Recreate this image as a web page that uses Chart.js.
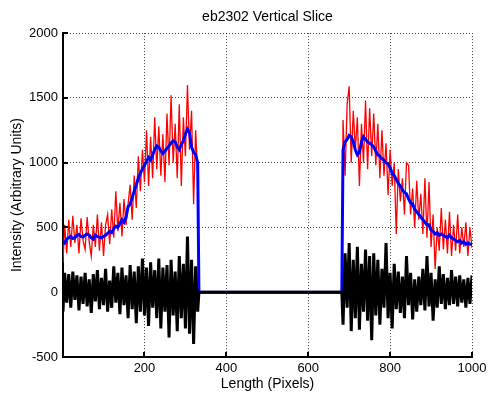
<!DOCTYPE html>
<html>
<head>
<meta charset="utf-8">
<title>eb2302 Vertical Slice</title>
<script src="https://cdn.jsdelivr.net/npm/chart.js@4.4.1/dist/chart.umd.min.js"></script>
<style>
	html, body { margin: 0; padding: 0; background: #fff; }
	#wrap { width: 488px; height: 395px; }
</style>
</head>
<body>
<div id="wrap"><canvas id="chart-slice" width="488" height="395"></canvas></div>
<script>
// pixel positions along the slice (left block, flat gap, right block)
var xPos = [
	1,5,10,15,20,25,30,35,40,45,50,55,60,65,70,75,80,85,90,95,
	100,105,110,115,120,125,130,135,140,145,150,155,160,165,170,175,180,185,190,195,
	200,205,210,215,220,225,230,235,240,245,250,255,260,265,270,275,280,285,290,295,
	300,305,310,315,320,325,330,
	333,682,
	685,690,695,700,705,710,715,720,725,730,735,740,745,750,755,760,765,770,775,780,
	785,790,795,800,805,810,815,820,825,830,835,840,845,850,855,860,865,870,875,880,
	885,890,895,900,905,910,915,920,925,930,935,940,945,950,955,960,965,970,975,980,
	985,990,995,1000
];

// raw intensity (red)
var redVals = [
	230,520,300,560,350,590,380,520,300,570,
	400,330,580,390,280,520,350,600,320,540,
	280,520,600,370,640,420,780,470,690,430,
	720,520,680,830,560,900,650,1050,780,1100,
	850,1250,820,1200,880,1350,950,1280,900,1220,
	850,1380,980,1520,1000,1300,880,1450,820,1350,
	1050,1600,1100,1400,680,1250,900,
	0,0,
	1330,900,1450,1590,1000,1400,1100,1350,820,1300,
	1000,1480,950,1420,1050,1380,980,1300,880,1250,
	900,1150,750,1100,820,1000,450,950,700,880,
	600,1000,980,600,800,500,860,560,760,450,
	880,420,850,350,600,180,500,320,650,330,
	560,300,620,280,520,320,600,300,500,350,
	540,280,500,340
];

// smoothed intensity (blue)
var blueVals = [
	390,380,410,420,430,415,420,440,445,430,
	425,440,450,440,420,410,440,430,425,420,
	430,440,455,470,460,490,510,500,530,560,
	540,580,660,680,730,780,830,880,920,950,
	980,1010,1040,1020,1060,1100,1130,1120,1090,1070,
	1090,1110,1130,1150,1170,1160,1120,1100,1140,1170,
	1220,1260,1230,1120,1080,1060,1000,
	0,0,
	1100,1160,1180,1210,1200,1160,1100,1060,1080,1160,
	1200,1180,1160,1150,1140,1120,1090,1060,1050,1030,
	1020,1000,990,960,920,900,870,840,820,790,
	770,760,720,690,680,640,620,600,580,560,
	540,520,520,480,470,450,460,440,450,440,
	430,420,440,420,410,400,390,400,380,390,
	370,380,370,370
];

// residual noise (black)
var blackVals = [
	-150,150,-80,140,-120,160,-60,130,-140,120,
	-90,150,-110,100,-160,140,-70,170,-130,110,
	-100,180,-150,90,-120,200,-80,150,-170,190,
	-100,130,-200,210,-130,160,-240,200,-150,260,
	-180,190,-260,230,-120,170,-200,260,-280,190,
	-150,210,-350,250,-180,160,-300,280,-200,220,
	-280,430,-320,250,-400,200,-150,
	0,0,
	-250,300,-120,380,-300,250,-200,350,-290,220,
	-150,330,-220,280,-370,300,-180,250,-250,180,
	-120,380,-200,150,-280,220,-130,160,-160,120,
	-200,280,-100,150,-210,100,-150,120,-100,180,
	-140,280,-110,150,-220,100,-120,200,-90,140,
	-130,110,-100,170,-90,120,-110,130,-80,100,
	-120,110,-90,130
];

var xTicks = [200, 400, 600, 800, 1000];
var yTicks = [-500, 0, 500, 1000, 1500, 2000];

function toPoints(vals) {
	return xPos.map(function(x, i) {
		return { x: x, y: vals[i] };
	});
}

// little inward tick marks like matlab
var innerTicks = {
	id: 'innerTicks',
	afterDraw: function(chart) {
		var ctx = chart.ctx;
		var xs = chart.scales.x, ys = chart.scales.y;
		var area = chart.chartArea;
		ctx.save();
		ctx.strokeStyle = '#000';
		ctx.lineWidth = 2;
		ctx.beginPath();
		ys.ticks.forEach(function(t) {
			var py = Math.round(ys.getPixelForValue(t.value));
			ctx.moveTo(area.left, py);
			ctx.lineTo(area.left + 5, py);
		});
		xs.ticks.forEach(function(t) {
			var px = Math.round(xs.getPixelForValue(t.value));
			ctx.moveTo(px, area.bottom);
			ctx.lineTo(px, area.bottom - 5);
		});
		ctx.stroke();
		ctx.restore();
	}
};

var font = { family: 'Liberation Sans, Arial, sans-serif', size: 13 };
var titleFont = { family: 'Liberation Sans, Arial, sans-serif', size: 14 };

function plainLabel(v) {
	return String(v);
}

var configSlice = {
	type: 'line',
	data: {
		datasets: [{
			label: 'noise',
			data: toPoints(blackVals),
			borderColor: '#000000',
			borderWidth: 3
		}, {
			label: 'smoothed',
			data: toPoints(blueVals),
			borderColor: '#0000ff',
			borderWidth: 3
		}, {
			label: 'raw',
			data: toPoints(redVals),
			borderColor: '#ff0000',
			borderWidth: 1.3
		}]
	},
	options: {
		responsive: false,
		animation: false,
		elements: {
			point: { radius: 0 },
			line: { tension: 0, borderJoinStyle: 'miter' }
		},
		layout: {
			padding: { left: 0, right: 16, top: 0, bottom: 0 }
		},
		plugins: {
			legend: { display: false },
			tooltip: { enabled: false },
			title: {
				display: true,
				fullSize: false,
				text: 'eb2302 Vertical Slice',
				color: '#000',
				font: { family: titleFont.family, size: 14, weight: 'normal', lineHeight: 1.15 },
				padding: { top: 9, bottom: 8 }
			}
		},
		scales: {
			x: {
				type: 'linear',
				min: 1,
				max: 1000,
				afterBuildTicks: function(scale) {
					scale.ticks = xTicks.map(function(v) { return { value: v }; });
				},
				afterFit: function(scale) {
					scale.height = 38;
					// let the "1000" label hang into the margin
					scale.paddingRight = 0;
				},
				grid: {
					color: 'rgba(0,0,0,0.75)',
					lineWidth: 1,
					drawTicks: false
				},
				// in v4 the grid dash lives on border
				border: { display: true, color: '#000', width: 2, dash: [1, 2] },
				ticks: { color: '#000', font: font, padding: 4, maxRotation: 0, callback: plainLabel },
				title: {
					display: true,
					text: 'Length (Pixels)',
					color: '#000',
					font: titleFont,
					padding: { top: 0, bottom: 2 }
				}
			},
			y: {
				type: 'linear',
				min: -500,
				max: 2000,
				afterBuildTicks: function(scale) {
					scale.ticks = yTicks.map(function(v) { return { value: v }; });
				},
				afterFit: function(scale) { scale.width = 63; },
				grid: {
					color: 'rgba(0,0,0,0.75)',
					lineWidth: 1,
					drawTicks: false
				},
				border: { display: true, color: '#000', width: 2, dash: [1, 2] },
				ticks: { color: '#000', font: font, padding: 5, callback: plainLabel },
				title: {
					display: true,
					text: 'Intensity (Arbitrary Units)',
					color: '#000',
					font: titleFont,
					padding: { top: 9, bottom: 0 }
				}
			}
		}
	},
	plugins: [innerTicks]
};

var ctx = document.getElementById('chart-slice').getContext('2d');
var chartSlice = new Chart(ctx, configSlice);
</script>
</body>
</html>
